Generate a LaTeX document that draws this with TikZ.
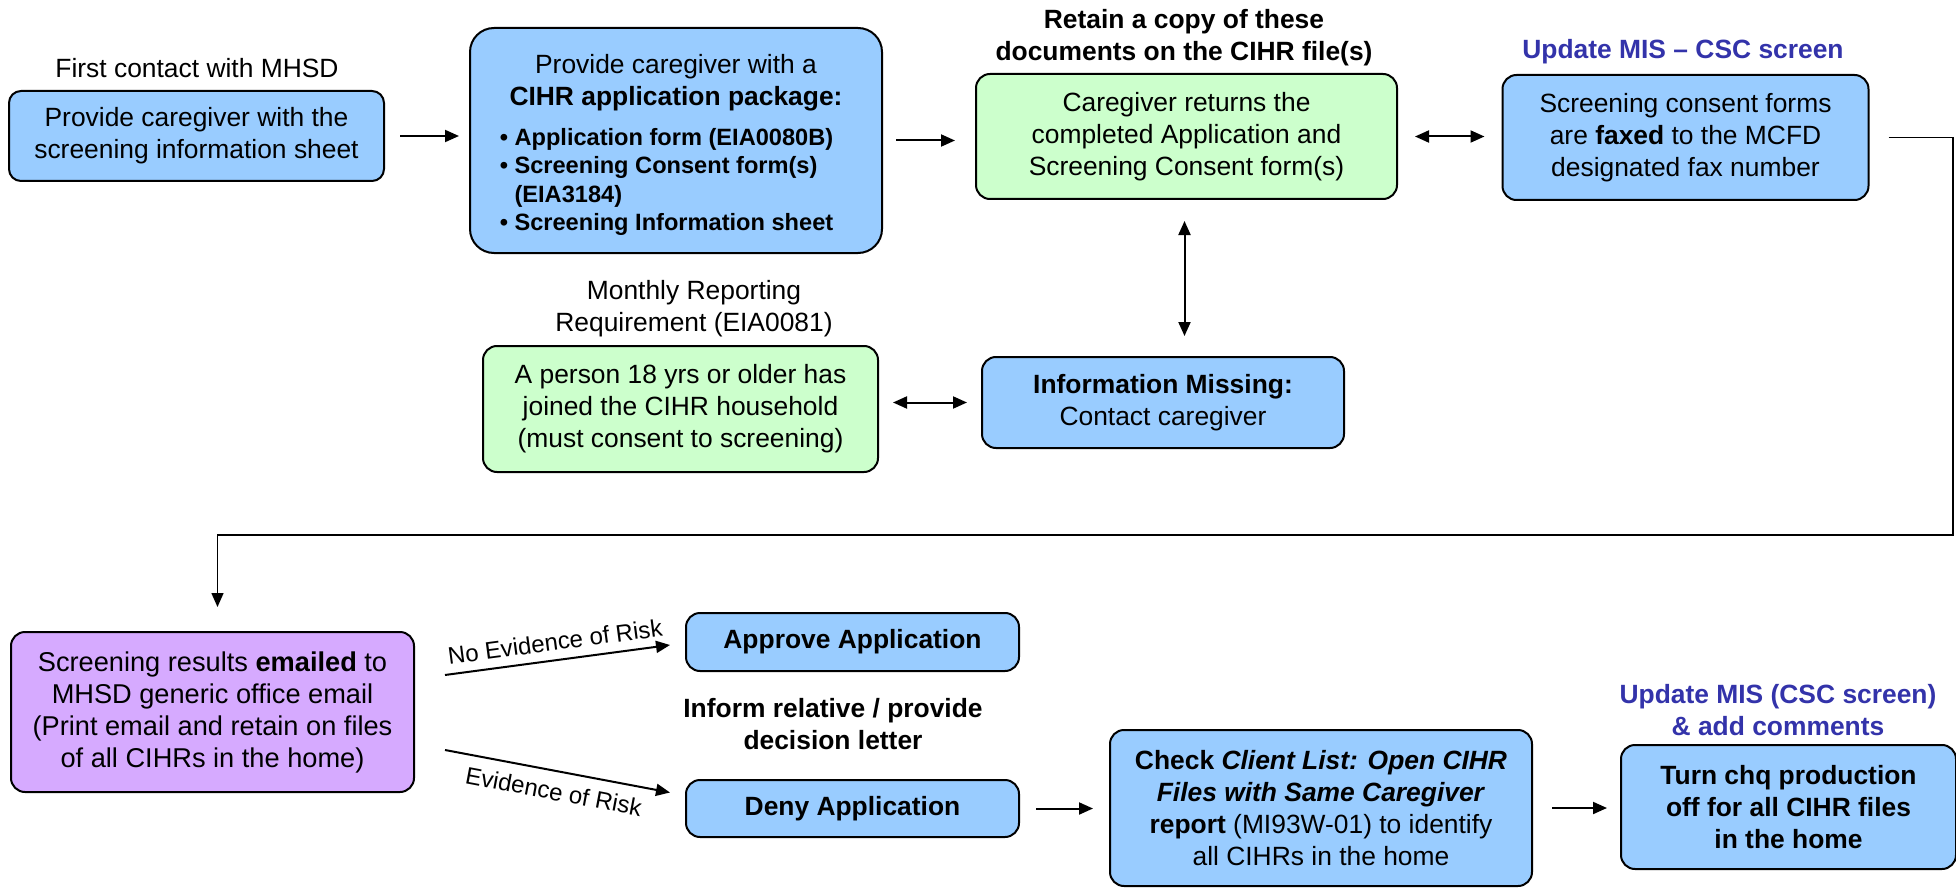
\documentclass[tikz,border=0pt]{standalone}
\usepackage{fontspec}
\setmainfont{Liberation Sans}
\usetikzlibrary{arrows.meta}
\definecolor{boxblue}{RGB}{153,204,255}
\definecolor{boxgreen}{RGB}{204,255,204}
\definecolor{boxpurple}{RGB}{214,170,255}
\definecolor{misblue}{RGB}{51,51,170}
\newcommand{\txt}{\fontsize{13.2}{16}\selectfont}
\tikzset{
  flowbox/.style={draw=black, line width=1pt, rounded corners=7pt, align=center, font=\txt, inner sep=2pt},
  bluebox/.style={flowbox, fill=boxblue},
  greenbox/.style={flowbox, fill=boxgreen},
  purplebox/.style={flowbox, fill=boxpurple},
  note/.style={align=center, font=\txt},
  misnote/.style={align=center, text=misblue, font=\txt\bfseries},
  flow/.style={-{Triangle[length=7pt,width=6pt]}, line width=1pt},
  flowboth/.style={{Triangle[length=7pt,width=6pt]}-{Triangle[length=7pt,width=6pt]}, line width=1pt},
  risk/.style={font=\fontsize{12}{14}\selectfont, sloped}
}

\begin{document}
\begin{tikzpicture}[x=0.5pt, y=-0.5pt]
\useasboundingbox (0,0) rectangle (1956,888);

% top row
\node[note] (firstnote) at (197,68) {First contact with MHSD};
\node[bluebox, minimum width=187.5pt, minimum height=45pt, rounded corners=6pt] (sheet) at (196.5,136)
  {Provide caregiver with the\\screening information sheet};
\node[bluebox, minimum width=206pt, minimum height=112.5pt, rounded corners=12pt] (package) at (676,140.5)
  {Provide caregiver with a\\\textbf{CIHR application package:}\\[4pt]
   \fontsize{11.8}{14.25}\selectfont\bfseries
   \raisebox{0pt}[\height][\dimexpr\depth-6pt]{\begin{tabular}[t]{@{}l@{}}
   • Application form (EIA0080B)\\
   • Screening Consent form(s)\\
   \phantom{• }(EIA3184)\\
   • Screening Information sheet
   \end{tabular}}\hspace*{9.5pt}};
\node[note, font=\txt\bfseries] (retain) at (1184,37.5) {Retain a copy of these\\documents on the CIHR file(s)};
\node[greenbox, minimum width=210.5pt, minimum height=62.5pt] (returns) at (1186.5,136.5)
  {Caregiver returns the\\completed Application and\\Screening Consent form(s)};
\node[misnote] (misone) at (1683,52) {Update MIS – CSC screen};
\node[bluebox, minimum width=183pt, minimum height=62.5pt] (faxed) at (1685.5,137.5)
  {Screening consent forms\\are \textbf{faxed} to the MCFD\\designated fax number};

% missing information
\node[note] (monthly) at (694,309) {Monthly Reporting\\Requirement (EIA0081)};
\node[greenbox, minimum width=197.5pt, minimum height=63pt] (person) at (680.5,409)
  {A person 18 yrs or older has\\joined the CIHR household\\(must consent to screening)};
\node[bluebox, minimum width=181pt, minimum height=45.5pt] (missing) at (1163,402.5)
  {\textbf{Information Missing:}\\Contact caregiver};

% bottom row
\node[purplebox, minimum width=201.5pt, minimum height=80pt, font=\fontsize{13.6}{16}\selectfont] (emailed) at (212.5,712)
  {Screening results \textbf{emailed} to\\MHSD generic office email\\(Print email and retain on files\\of all CIHRs in the home)};
\node[bluebox, minimum width=166.5pt, minimum height=29pt] (approve) at (852.5,642)
  {\textbf{Approve Application}};
\node[note, font=\txt\bfseries] (inform) at (833,724) {Inform relative / provide\\decision letter};
\node[bluebox, minimum width=166.5pt, minimum height=28.5pt] (deny) at (852.5,808.5)
  {\textbf{Deny Application}};
\node[bluebox, minimum width=211pt, minimum height=78pt] (check) at (1321,808)
  {\textbf{Check \textit{Client List: Open CIHR}}\\\textbf{\textit{Files with Same Caregiver}}\\\textbf{report} (MI93W-01) to identify\\all CIHRs in the home};
\node[misnote] (mistwo) at (1778,710) {Update MIS (CSC screen)\\\& add comments};
\node[bluebox, minimum width=167.5pt, minimum height=62pt] (chq) at (1788.5,807)
  {\textbf{Turn chq production}\\\textbf{off for all CIHR files}\\\textbf{in the home}};

\coordinate (turn) at (1953,535);

% connectors
\draw[flow, shorten <=7.5pt, shorten >=5pt] (sheet) -- (sheet -| package.west);
\draw[flow, shorten <=6.5pt, shorten >=10pt] (package) -- (package -| returns.west);
\draw[flowboth, shorten <=8.5pt, shorten >=8.5pt] (returns) -- (returns -| faxed.west);
\draw[flowboth, shorten <=10.5pt, shorten >=10pt] ([xshift=-1pt]returns.south) -- ([xshift=-1pt]returns.south |- missing.north);
\draw[flowboth, shorten <=7pt, shorten >=7pt] (person.east |- missing) -- (missing);
\draw[flow, line width=0.75pt, shorten <=9.5pt, shorten >=12pt] (faxed) -- (faxed -| turn) -- (turn) -| ([xshift=2.5pt]emailed.north);

\draw[flow] ([shift={(15pt,18.5pt)}]emailed.east) -- ([shift={(-7.5pt,-1.5pt)}]approve.west)
  node[risk, midway, above=1pt] {No Evidence of Risk};
\draw[flow] ([shift={(15pt,-19pt)}]emailed.east) -- ([shift={(-7.5pt,8pt)}]deny.west)
  node[risk, midway, below=2pt] {Evidence of Risk};
\draw[flow, shorten <=8pt, shorten >=8pt] (deny) -- (deny -| check.west);
\draw[flow, shorten <=9.5pt, shorten >=6.5pt] (check) -- (check -| chq.west);
\end{tikzpicture}
\end{document}
